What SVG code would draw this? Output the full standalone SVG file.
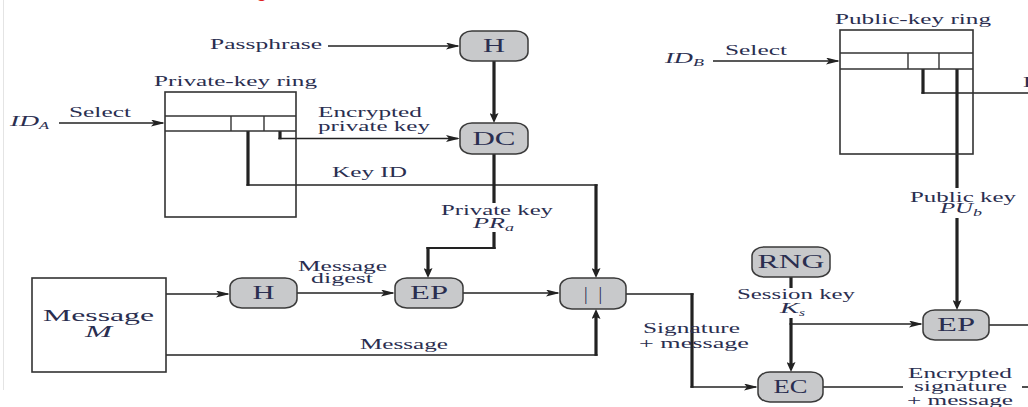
<svg xmlns="http://www.w3.org/2000/svg" width="1028" height="407" viewBox="0 0 1028 407">
  <style>
    .t { font-family: "Liberation Serif", "Times New Roman", serif; font-size: 14px; fill: #2a2e50; }
    .i { font-style: italic; }
    .sub { font-size: 10px; }
    .big { font-size: 17px; }
    .nl { font-family: "Liberation Serif", "Times New Roman", serif; font-size: 18px; fill: #2a2e50; text-anchor: middle; }
    .node { fill: #c8c9cb; stroke: #3a3a3a; stroke-width: 1.5; }
    .box { fill: #ffffff; stroke: #333333; stroke-width: 1.6; }
    .cell { stroke: #333333; stroke-width: 1.4; fill: none; }
    .thin { stroke: #222222; stroke-width: 1.6; fill: none; }
    .thick { stroke: #222222; stroke-width: 3.2; fill: none; }
    .mid { stroke: #222222; stroke-width: 2.2; fill: none; }
  </style>
  <defs>
    <marker id="ah" markerUnits="userSpaceOnUse" markerWidth="14" markerHeight="7" refX="12" refY="3.5" orient="auto">
      <path d="M0,0 L14,3.5 L0,7 L3,3.5 z" fill="#222222"/>
    </marker>
    <marker id="av" markerUnits="userSpaceOnUse" markerWidth="10" markerHeight="9" refX="4" refY="4.5" orient="auto">
      <path d="M0,0 L10,4.5 L0,9 L2,4.5 z" fill="#222222"/>
    </marker>
  </defs>

  <!-- page edge -->
  <line x1="3.5" y1="0" x2="3.5" y2="390" stroke="#e4e4e4" stroke-width="1"/>
  <text x="256" y="-3" font-family="Liberation Sans, sans-serif" font-size="20" fill="#e02020">g</text>

  <!-- connectors -->
  <g id="connectors">
    <line class="thin" x1="328" y1="46" x2="458" y2="46" marker-end="url(#ah)"/>
    <line class="thick" x1="494" y1="61" x2="494" y2="117" marker-end="url(#av)"/>
    <line class="thin" x1="59" y1="123" x2="163" y2="123" marker-end="url(#ah)"/>
    <!-- encrypted private key -->
    <line class="thick" x1="280" y1="131" x2="280" y2="139.3"/>
    <line class="thin" x1="278.4" y1="138.5" x2="458" y2="138.5" marker-end="url(#ah)"/>
    <!-- key ID -->
    <line class="thick" x1="248" y1="131" x2="248" y2="185.8"/>
    <line class="thin" x1="246.4" y1="185" x2="597.6" y2="185"/>
    <line class="thick" x1="596" y1="184.2" x2="596" y2="272" marker-end="url(#av)"/>
    <!-- private key -->
    <line class="thick" x1="494" y1="154" x2="494" y2="203"/>
    <line class="thick" x1="494" y1="232" x2="494" y2="249"/>
    <line class="mid" x1="495.6" y1="248" x2="426.4" y2="248"/>
    <line class="thick" x1="428" y1="247" x2="428" y2="272" marker-end="url(#av)"/>
    <!-- message flow -->
    <line class="thin" x1="166" y1="294" x2="228" y2="294" marker-end="url(#ah)"/>
    <line class="thin" x1="297" y1="293" x2="393" y2="293" marker-end="url(#ah)"/>
    <line class="thin" x1="463" y1="293" x2="558" y2="293" marker-end="url(#ah)"/>
    <line class="thin" x1="166" y1="355" x2="597.6" y2="355"/>
    <line class="thick" x1="596" y1="355.8" x2="596" y2="315" marker-end="url(#av)"/>
    <!-- signature + message -->
    <line class="thin" x1="626" y1="294" x2="693.6" y2="294"/>
    <line class="thick" x1="692" y1="293.2" x2="692" y2="387.8"/>
    <line class="thin" x1="690.4" y1="387" x2="756" y2="387" marker-end="url(#ah)"/>
    <!-- session key -->
    <line class="thick" x1="791" y1="277" x2="791" y2="288"/>
    <line class="thick" x1="791" y1="318" x2="791" y2="366" marker-end="url(#av)"/>
    <line class="thin" x1="789.4" y1="324" x2="921" y2="324" marker-end="url(#ah)"/>
    <!-- outputs -->
    <line class="thin" x1="823" y1="387" x2="903" y2="387"/>
    <line class="thin" x1="1022" y1="387" x2="1028" y2="387"/>
    <line class="thin" x1="989" y1="325" x2="1028" y2="325"/>
    <!-- public-key ring -->
    <line class="thin" x1="713" y1="61" x2="838" y2="61" marker-end="url(#ah)"/>
    <line class="thick" x1="923" y1="69" x2="923" y2="93.8"/>
    <line class="thin" x1="921.4" y1="93" x2="1028" y2="93"/>
    <line class="thick" x1="957" y1="69" x2="957" y2="188"/>
    <line class="thick" x1="957" y1="218" x2="957" y2="304" marker-end="url(#av)"/>
  </g>

  <!-- private-key ring -->
  <g id="private-key-ring">
    <rect class="box" x="165" y="92" width="131" height="125" fill="none" style="fill:none"/>
    <line class="cell" x1="165" y1="116" x2="296" y2="116"/>
    <line class="cell" x1="165" y1="131" x2="296" y2="131"/>
    <line class="cell" x1="231" y1="116" x2="231" y2="131"/>
    <line class="cell" x1="264" y1="116" x2="264" y2="131"/>
    <text class="t" x="154" y="86" textLength="163" lengthAdjust="spacingAndGlyphs">Private-key ring</text>
  </g>

  <!-- public-key ring -->
  <g id="public-key-ring">
    <rect class="box" x="840" y="30" width="133" height="124" style="fill:none"/>
    <line class="cell" x1="840" y1="53" x2="973" y2="53"/>
    <line class="cell" x1="840" y1="69" x2="973" y2="69"/>
    <line class="cell" x1="908" y1="53" x2="908" y2="69"/>
    <line class="cell" x1="939" y1="53" x2="939" y2="69"/>
    <text class="t" x="835" y="24" textLength="156" lengthAdjust="spacingAndGlyphs">Public-key ring</text>
  </g>

  <!-- message source -->
  <g id="message">
    <rect class="box" x="32" y="278" width="134" height="94"/>
    <text class="t big" x="43" y="321" textLength="111" lengthAdjust="spacingAndGlyphs">Message</text>
    <text class="t big i" x="85" y="337" textLength="27" lengthAdjust="spacingAndGlyphs">M</text>
  </g>

  <!-- processing nodes -->
  <g id="hash-pass">
    <rect class="node" x="460" y="31" width="68" height="30" rx="12" ry="9"/>
    <text class="nl" x="494" y="52" textLength="22" lengthAdjust="spacingAndGlyphs">H</text>
  </g>
  <g id="dc">
    <rect class="node" x="460" y="123" width="68" height="31" rx="12" ry="9"/>
    <text class="nl" x="494" y="144.5" textLength="43" lengthAdjust="spacingAndGlyphs">DC</text>
  </g>
  <g id="hash-msg">
    <rect class="node" x="230" y="278" width="67" height="30" rx="12" ry="9"/>
    <text class="nl" x="263.5" y="299" textLength="22" lengthAdjust="spacingAndGlyphs">H</text>
  </g>
  <g id="ep-sign">
    <rect class="node" x="395" y="278" width="68" height="30" rx="12" ry="9"/>
    <text class="nl" x="429" y="299" textLength="38" lengthAdjust="spacingAndGlyphs">EP</text>
  </g>
  <g id="concat">
    <rect class="node" x="560" y="278" width="66" height="31" rx="12" ry="9"/>
    <text class="nl" x="593" y="299.5" textLength="18" lengthAdjust="spacing">||</text>
  </g>
  <g id="rng">
    <rect class="node" x="752" y="247" width="78" height="30" rx="12" ry="9"/>
    <text class="nl" x="791" y="268" textLength="67" lengthAdjust="spacingAndGlyphs">RNG</text>
  </g>
  <g id="ep-key">
    <rect class="node" x="923" y="310" width="66" height="30" rx="12" ry="9"/>
    <text class="nl" x="956" y="331" textLength="38" lengthAdjust="spacingAndGlyphs">EP</text>
  </g>
  <g id="ec">
    <rect class="node" x="758" y="372" width="65" height="30" rx="12" ry="9"/>
    <text class="nl" x="790.5" y="393" textLength="34" lengthAdjust="spacingAndGlyphs">EC</text>
  </g>

  <!-- labels -->
  <g id="labels">
    <text class="t" x="210" y="49" textLength="112" lengthAdjust="spacingAndGlyphs">Passphrase</text>
    <text class="t i" x="10" y="126" textLength="29" lengthAdjust="spacingAndGlyphs">ID</text>
    <text class="t i sub" x="39" y="128.5" textLength="10" lengthAdjust="spacingAndGlyphs">A</text>
    <text class="t" x="69" y="117" textLength="62" lengthAdjust="spacingAndGlyphs">Select</text>
    <text class="t" x="318" y="117" textLength="104" lengthAdjust="spacingAndGlyphs">Encrypted</text>
    <text class="t" x="318" y="131" textLength="112" lengthAdjust="spacingAndGlyphs">private key</text>
    <text class="t" x="332" y="177" textLength="75" lengthAdjust="spacingAndGlyphs">Key ID</text>
    <text class="t" x="441" y="215" textLength="112" lengthAdjust="spacingAndGlyphs">Private key</text>
    <text class="t i" x="473" y="228" textLength="32" lengthAdjust="spacingAndGlyphs">PR</text>
    <text class="t i sub" x="505" y="230.5" textLength="9" lengthAdjust="spacingAndGlyphs">a</text>
    <text class="t" x="298" y="271" textLength="89" lengthAdjust="spacingAndGlyphs">Message</text>
    <text class="t" x="311" y="283" textLength="62" lengthAdjust="spacingAndGlyphs">digest</text>
    <text class="t" x="360" y="349" textLength="88" lengthAdjust="spacingAndGlyphs">Message</text>
    <text class="t" x="643" y="333" textLength="97" lengthAdjust="spacingAndGlyphs">Signature</text>
    <text class="t" x="639" y="348" textLength="110" lengthAdjust="spacingAndGlyphs">+ message</text>
    <text class="t" x="737" y="299" textLength="118" lengthAdjust="spacingAndGlyphs">Session key</text>
    <text class="t i" x="780" y="313" textLength="19" lengthAdjust="spacingAndGlyphs">K</text>
    <text class="t i sub" x="799" y="315.5" textLength="6" lengthAdjust="spacingAndGlyphs">s</text>
    <text class="t" x="908" y="378" textLength="104" lengthAdjust="spacingAndGlyphs">Encrypted</text>
    <text class="t" x="914" y="391" textLength="93" lengthAdjust="spacingAndGlyphs">signature</text>
    <text class="t" x="907" y="405" textLength="106" lengthAdjust="spacingAndGlyphs">+ message</text>
    <text class="t i" x="665" y="63" textLength="28" lengthAdjust="spacingAndGlyphs">ID</text>
    <text class="t i sub" x="693" y="65.5" textLength="11" lengthAdjust="spacingAndGlyphs">B</text>
    <text class="t" x="725" y="55" textLength="62" lengthAdjust="spacingAndGlyphs">Select</text>
    <text class="t" x="910" y="202" textLength="106" lengthAdjust="spacingAndGlyphs">Public key</text>
    <text class="t i" x="940" y="213" textLength="33" lengthAdjust="spacingAndGlyphs">PU</text>
    <text class="t i sub" x="973" y="215.5" textLength="9" lengthAdjust="spacingAndGlyphs">b</text>
    <text class="t" x="1023" y="87" textLength="75" lengthAdjust="spacingAndGlyphs">Key ID</text>
  </g>
</svg>
